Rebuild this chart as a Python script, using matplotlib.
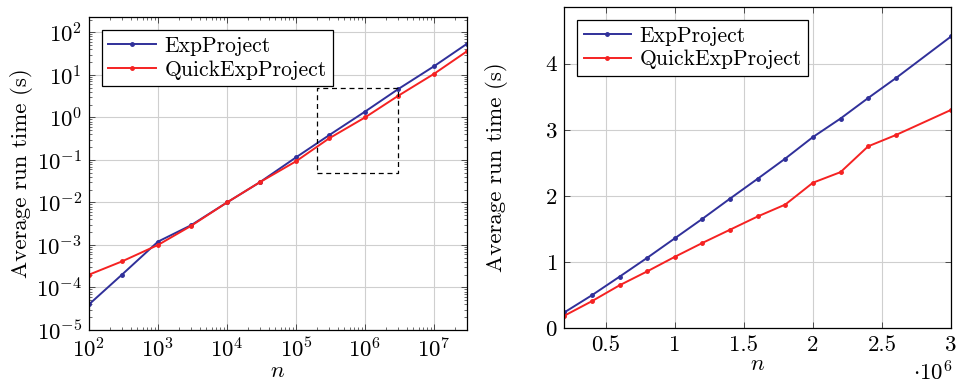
import numpy as np
import matplotlib
matplotlib.use("Agg")
import matplotlib.pyplot as plt
from matplotlib.ticker import LogLocator, FixedLocator, FuncFormatter, NullFormatter

plt.rcParams["font.family"] = "serif"
plt.rcParams["font.serif"] = ["cmr10", "DejaVu Serif"]
plt.rcParams["mathtext.fontset"] = "cm"
plt.rcParams["axes.formatter.use_mathtext"] = True

# left plot: log-log run times
n_log = [1e2, 3e2, 1e3, 3e3, 1e4, 3e4, 1e5, 3e5, 1e6, 3e6, 1e7, 3e7]
exp_log = [4e-5, 2e-4, 1.2e-3, 2.9e-3, 1e-2, 0.03, 0.115, 0.38, 1.37, 4.6, 16, 54]
quick_log = [2e-4, 4.1e-4, 1e-3, 2.8e-3, 1e-2, 0.03, 0.093, 0.32, 1.0, 3.2, 10.6, 36]

# right plot: zoomed linear
n_lin = [0.2e6, 0.4e6, 0.6e6, 0.8e6, 1.0e6, 1.2e6, 1.4e6, 1.6e6, 1.8e6,
         2.0e6, 2.2e6, 2.4e6, 2.6e6, 3.0e6]
exp_lin = [0.24, 0.50, 0.78, 1.065, 1.36, 1.655, 1.96, 2.26, 2.565,
           2.89, 3.17, 3.48, 3.78, 4.41]
quick_lin = [0.19, 0.41, 0.65, 0.86, 1.08, 1.29, 1.49, 1.69, 1.87,
             2.20, 2.36, 2.75, 2.92, 3.30]

zoom_box = [2e5, 3e6, 0.05, 5]

blue = "#30309a"
red = "#f52222"
grid_c = "#cfcfcf"
fs = 16.5

fig = plt.figure(figsize=(9.56, 3.87), dpi=100)
ax1 = fig.add_axes([0.0931, 0.1473, 0.3954, 0.8088])
ax2 = fig.add_axes([0.5903, 0.1517, 0.4045, 0.831])


def style(ax):
    ax.tick_params(which="both", direction="in", top=True, right=True,
                   labelsize=fs, color="#333333", pad=5)
    ax.tick_params(which="major", length=4, width=0.6)
    ax.tick_params(which="minor", length=2.5, width=0.5)
    ax.grid(True, which="major", color=grid_c, lw=0.8)
    ax.set_axisbelow(True)
    for s in ax.spines.values():
        s.set_linewidth(0.9)
    ax.set_xlabel("$n$", fontsize=fs, labelpad=0)
    ax.set_ylabel("Average run time (s)", fontsize=fs)


def add_legend(ax):
    leg = ax.legend(loc="upper left", fontsize=15.5, frameon=True, fancybox=False,
                    edgecolor="black", framealpha=1, handlelength=2.2, numpoints=1,
                    borderpad=0.3, labelspacing=0.2, handletextpad=0.4,
                    borderaxespad=0.6)
    leg.get_frame().set_linewidth(0.9)


kw = dict(lw=1.4, marker="o", ms=2.5)

ax1.plot(n_log, exp_log, color=blue, label="ExpProject", **kw)
ax1.plot(n_log, quick_log, color=red, label="QuickExpProject", **kw)
ax1.set_xscale("log")
ax1.set_yscale("log")
ax1.set_xlim(1e2, 3e7)
ax1.set_ylim(1e-5, 2.3e2)
ax1.xaxis.set_major_locator(LogLocator(base=10, numticks=20))
ax1.yaxis.set_major_locator(LogLocator(base=10, numticks=20))
ax1.xaxis.set_minor_locator(LogLocator(base=10, subs=np.arange(2, 10), numticks=20))
ax1.yaxis.set_minor_locator(LogLocator(base=10, subs=np.arange(2, 10), numticks=20))
ax1.xaxis.set_minor_formatter(NullFormatter())
ax1.yaxis.set_minor_formatter(NullFormatter())
bx0, bx1, by0, by1 = zoom_box
ax1.plot([bx0, bx1, bx1, bx0, bx0], [by0, by0, by1, by1, by0],
         color="black", lw=0.9, ls=(0, (4, 3)))
style(ax1)
ax1.yaxis.labelpad = 2
add_legend(ax1)

ax2.plot(n_lin, exp_lin, color=blue, label="ExpProject", **kw)
ax2.plot(n_lin, quick_lin, color=red, label="QuickExpProject", **kw)
ax2.set_xlim(0.2e6, 3e6)
ax2.set_ylim(0, 4.86)
ax2.xaxis.set_major_locator(FixedLocator([0.5e6, 1e6, 1.5e6, 2e6, 2.5e6, 3e6]))
ax2.xaxis.set_major_formatter(FuncFormatter(lambda v, p: f"{v / 1e6:g}"))
ax2.yaxis.set_major_locator(FixedLocator([0, 1, 2, 3, 4]))
style(ax2)
ax2.yaxis.labelpad = 26
ax2.text(1.003, -0.1, r"$\cdot 10^{6}$", transform=ax2.transAxes,
         ha="right", va="top", fontsize=fs)
add_legend(ax2)

fig.savefig("out.png", dpi=100)
